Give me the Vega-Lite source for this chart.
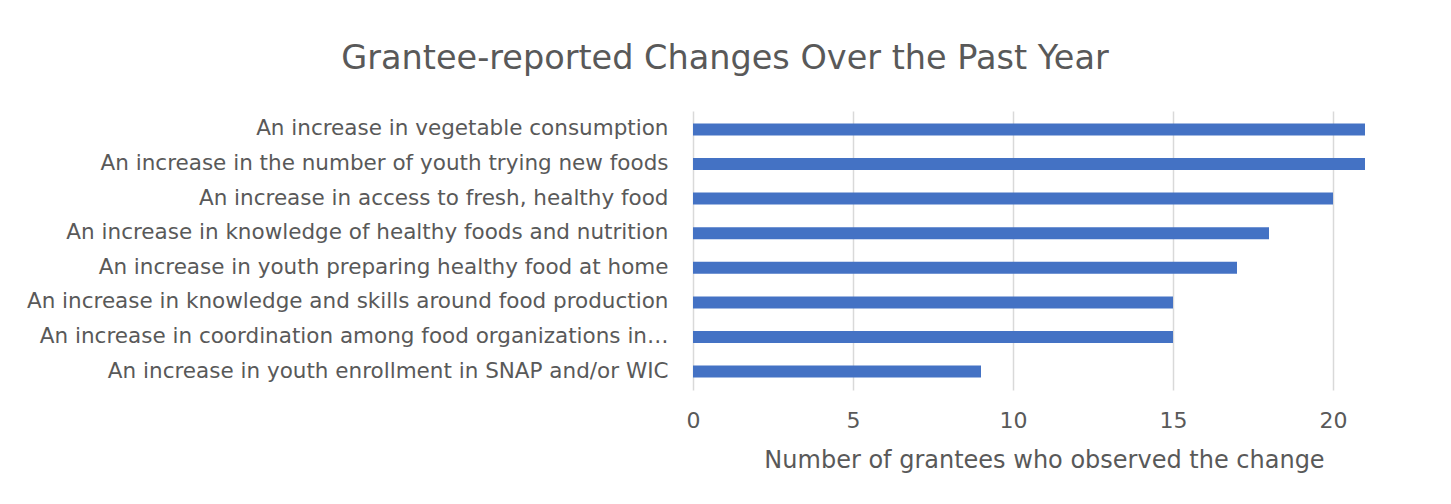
{
  "$schema": "https://vega.github.io/schema/vega-lite/v6.json",
  "width": 672,
  "height": 279,
  "autosize": {"type": "none"},
  "padding": {"left": 693, "top": 111, "right": 86, "bottom": 114},
  "background": "white",
  "title": {
    "text": "Grantee-reported Changes Over the Past Year",
    "anchor": "middle",
    "frame": "group",
    "dx": -304,
    "offset": 35,
    "fontSize": 33.5,
    "font": "DejaVu Sans",
    "fontWeight": "normal",
    "color": "#595959"
  },
  "data": {
    "values": [
      {"change": "An increase in vegetable consumption", "count": 21},
      {"change": "An increase in the number of youth trying new foods", "count": 21},
      {"change": "An increase in access to fresh, healthy food", "count": 20},
      {"change": "An increase in knowledge of healthy foods and nutrition", "count": 18},
      {"change": "An increase in youth preparing healthy food at home", "count": 17},
      {"change": "An increase in knowledge and skills around food production", "count": 15},
      {"change": "An increase in coordination among food organizations in…", "count": 15},
      {"change": "An increase in youth enrollment in SNAP and/or WIC", "count": 9}
    ]
  },
  "mark": {"type": "bar", "color": "#4472c4"},
  "encoding": {
    "y": {
      "field": "change",
      "type": "nominal",
      "sort": null,
      "scale": {"paddingInner": 0.653, "paddingOuter": 0.36},
      "axis": {
        "title": null,
        "ticks": false,
        "domain": false,
        "labelPadding": 25,
        "labelLimit": 0,
        "labelFontSize": 21.5,
        "labelFont": "DejaVu Sans",
        "labelColor": "#595959"
      }
    },
    "x": {
      "field": "count",
      "type": "quantitative",
      "scale": {"domain": [0, 21], "nice": false},
      "axis": {
        "values": [0, 5, 10, 15, 20],
        "title": "Number of grantees who observed the change",
        "titleFontSize": 24,
        "titleFont": "DejaVu Sans",
        "titleFontWeight": "normal",
        "titleColor": "#595959",
        "titlePadding": 17,
        "titleX": 351,
        "labelFontSize": 22,
        "labelFont": "DejaVu Sans",
        "labelColor": "#595959",
        "labelPadding": 20,
        "labelFlush": false,
        "ticks": false,
        "domain": false,
        "grid": true,
        "gridColor": "#d9d9d9",
        "gridWidth": 1.5
      }
    }
  },
  "config": {"view": {"stroke": null}}
}
